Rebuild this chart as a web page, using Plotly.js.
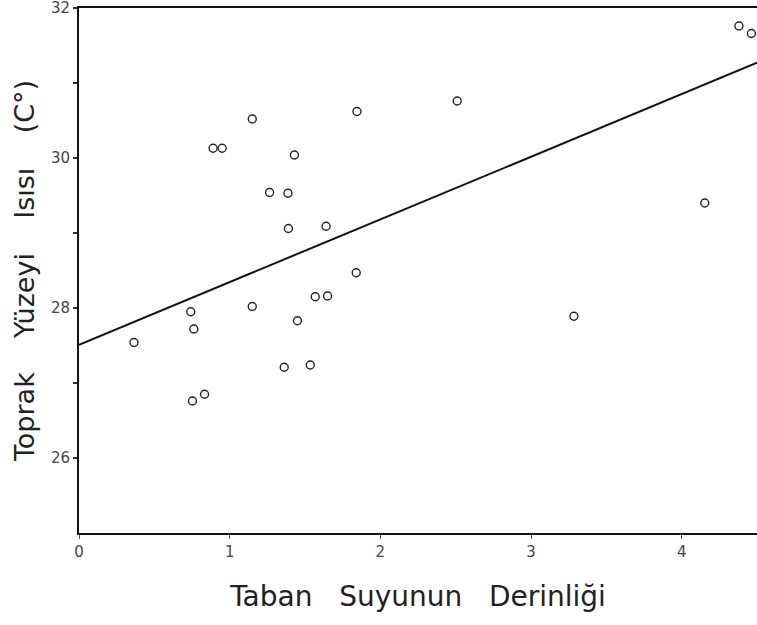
<!DOCTYPE html>
<html>
<head>
<meta charset="utf-8">
<script src="https://cdn.plot.ly/plotly-3.0.1.min.js"></script>
<style>html,body{margin:0;padding:0;background:#fff;}#chart{width:757px;height:625px;}</style>
</head>
<body>
<div id="chart"></div>
<script>
// Observed points: groundwater depth (x) vs soil surface temperature (y)
const depth = [0.365, 0.742, 0.762, 0.753, 0.833, 1.15, 0.89, 0.95, 1.15, 1.43, 1.265, 1.387, 1.39, 1.64, 1.845, 1.84, 1.568, 1.65, 1.45, 1.362, 1.535, 2.51, 3.285, 4.153, 4.38, 4.463];
const temp  = [27.54, 27.95, 27.72, 26.76, 26.85, 28.02, 30.13, 30.13, 30.52, 30.04, 29.54, 29.53, 29.06, 29.09, 30.62, 28.47, 28.15, 28.16, 27.83, 27.21, 27.24, 30.76, 27.89, 29.40, 31.76, 31.66];
// Regression line end points
const lineX = [0, 4.5];
const lineY = [27.51, 31.27];
const yTickVals = [26, 27, 28, 29, 30, 31, 32];
const yTickText = ['26', '', '28', '', '30', '', '32'];
const xTickVals = [0, 1, 2, 3, 4];
const xTickText = ['0', '1', '2', '3', '4'];

const traces = [
  {x: lineX, y: lineY, mode: 'lines', line: {color: '#111', width: 2}, hoverinfo: 'skip'},
  {x: depth, y: temp, mode: 'markers',
   marker: {symbol: 'circle-open', size: 8, color: '#222', line: {width: 1.4, color: '#222'}}}
];

const layout = {
  width: 757, height: 625,
  margin: {l: 79, r: 0, t: 8, b: 92},
  paper_bgcolor: '#fff', plot_bgcolor: '#fff',
  showlegend: false,
  font: {family: 'DejaVu Sans', color: '#333'},
  xaxis: {
    range: [0, 4.5], showgrid: false, zeroline: false,
    showline: true, linecolor: '#111', linewidth: 2, mirror: true,
    ticks: 'outside', ticklen: 4, tickwidth: 1, tickcolor: '#555',
    tickvals: xTickVals, ticktext: xTickText,
    tickfont: {size: 15, color: '#444'},
    title: {text: 'Taban   Suyunun   Derinliği', font: {size: 28, color: '#222'}, standoff: 26}
  },
  yaxis: {
    range: [25, 32], showgrid: false, zeroline: false,
    showline: true, linecolor: '#111', linewidth: 2,
    ticks: 'outside', ticklen: 4, tickwidth: 1.5, tickcolor: '#333',
    tickvals: yTickVals, ticktext: yTickText, ticklabeloverflow: 'allow',
    tickfont: {size: 15, color: '#444'},
    title: {text: 'Toprak    Yüzeyi    Isısı    (C°)', font: {size: 27, color: '#222'}, standoff: 8}
  }
};

Plotly.newPlot('chart', traces, layout, {displayModeBar: false, staticPlot: true});
</script>
</body>
</html>
